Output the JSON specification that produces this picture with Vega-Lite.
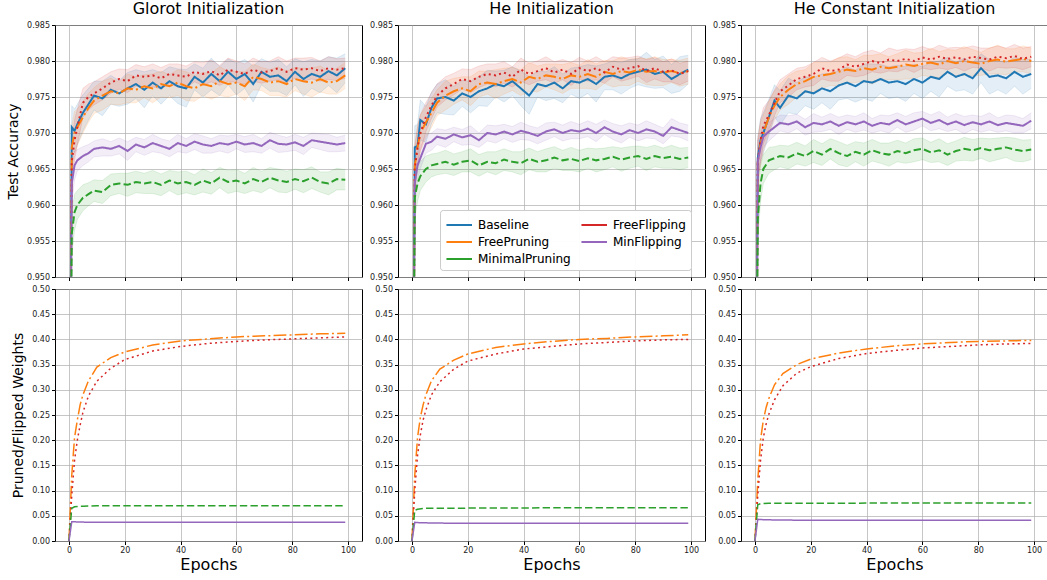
{
"$schema":"https://vega.github.io/schema/vega-lite/v6.json",
"padding":{"left":6,"top":0,"right":0,"bottom":0},
"config":{
"font":"DejaVu Sans",
"view":{"stroke":"#000","strokeWidth":1},
"axis":{"domain":false,"tickColor":"#000","tickSize":3.5,"labelFontSize":8,"labelColor":"#222","gridColor":"#b0b0b0","gridOpacity":0.8,"gridWidth":0.9,"titleFontWeight":"normal","titleColor":"#000","labelPadding":2},
"axisY":{"titleFontSize":14,"titlePadding":6},
"axisX":{"titleFontSize":16,"titlePadding":2},
"title":{"fontSize":16,"fontWeight":"normal","offset":0,"color":"#000"}
},
"datasets":{
"g":[
{"s":"B","e":0,"y":0.9,"d":0.004},{"s":"B","e":1,"y":0.9708,"d":0.003},{"s":"B","e":2,"y":0.9703,"d":0.003},{"s":"B","e":3,"y":0.9712,"d":0.0028},{"s":"B","e":5,"y":0.9728,"d":0.0025},{"s":"B","e":7,"y":0.974,"d":0.0022},{"s":"B","e":9,"y":0.9752,"d":0.002},{"s":"B","e":12,"y":0.9748,"d":0.0024},{"s":"B","e":15,"y":0.976,"d":0.002},{"s":"B","e":18,"y":0.9755,"d":0.0018},{"s":"B","e":21,"y":0.9762,"d":0.0022},{"s":"B","e":24,"y":0.9768,"d":0.002},{"s":"B","e":27,"y":0.976,"d":0.0025},{"s":"B","e":30,"y":0.977,"d":0.0018},{"s":"B","e":33,"y":0.9762,"d":0.0022},{"s":"B","e":36,"y":0.9772,"d":0.002},{"s":"B","e":39,"y":0.9765,"d":0.0024},{"s":"B","e":42,"y":0.9762,"d":0.0026},{"s":"B","e":45,"y":0.9778,"d":0.0018},{"s":"B","e":48,"y":0.977,"d":0.002},{"s":"B","e":51,"y":0.9782,"d":0.0022},{"s":"B","e":54,"y":0.9772,"d":0.002},{"s":"B","e":57,"y":0.9785,"d":0.0018},{"s":"B","e":60,"y":0.9775,"d":0.0022},{"s":"B","e":63,"y":0.9782,"d":0.002},{"s":"B","e":66,"y":0.9768,"d":0.0025},{"s":"B","e":69,"y":0.9785,"d":0.0018},{"s":"B","e":72,"y":0.9778,"d":0.002},{"s":"B","e":75,"y":0.978,"d":0.0022},{"s":"B","e":78,"y":0.9772,"d":0.002},{"s":"B","e":81,"y":0.9785,"d":0.0018},{"s":"B","e":84,"y":0.9775,"d":0.0024},{"s":"B","e":87,"y":0.9782,"d":0.002},{"s":"B","e":90,"y":0.9778,"d":0.0022},{"s":"B","e":93,"y":0.9786,"d":0.002},{"s":"B","e":96,"y":0.978,"d":0.0024},{"s":"B","e":99,"y":0.979,"d":0.002},
{"s":"FP","e":0,"y":0.9,"d":0.004},{"s":"FP","e":1,"y":0.968,"d":0.003},{"s":"FP","e":2,"y":0.97,"d":0.003},{"s":"FP","e":3,"y":0.9708,"d":0.0025},{"s":"FP","e":5,"y":0.9722,"d":0.0022},{"s":"FP","e":7,"y":0.9735,"d":0.002},{"s":"FP","e":9,"y":0.9745,"d":0.0018},{"s":"FP","e":12,"y":0.9752,"d":0.002},{"s":"FP","e":15,"y":0.9758,"d":0.0018},{"s":"FP","e":18,"y":0.9755,"d":0.0016},{"s":"FP","e":21,"y":0.9762,"d":0.002},{"s":"FP","e":24,"y":0.976,"d":0.0018},{"s":"FP","e":27,"y":0.9765,"d":0.0016},{"s":"FP","e":30,"y":0.9762,"d":0.002},{"s":"FP","e":33,"y":0.9768,"d":0.0018},{"s":"FP","e":36,"y":0.9765,"d":0.0016},{"s":"FP","e":39,"y":0.977,"d":0.0018},{"s":"FP","e":42,"y":0.9765,"d":0.002},{"s":"FP","e":45,"y":0.9762,"d":0.0018},{"s":"FP","e":48,"y":0.9768,"d":0.0016},{"s":"FP","e":51,"y":0.9765,"d":0.0018},{"s":"FP","e":54,"y":0.9772,"d":0.002},{"s":"FP","e":57,"y":0.9768,"d":0.0018},{"s":"FP","e":60,"y":0.977,"d":0.0016},{"s":"FP","e":63,"y":0.9765,"d":0.002},{"s":"FP","e":66,"y":0.9778,"d":0.0018},{"s":"FP","e":69,"y":0.9775,"d":0.0016},{"s":"FP","e":72,"y":0.977,"d":0.0018},{"s":"FP","e":75,"y":0.9772,"d":0.002},{"s":"FP","e":78,"y":0.9768,"d":0.0018},{"s":"FP","e":81,"y":0.9775,"d":0.0016},{"s":"FP","e":84,"y":0.9772,"d":0.0018},{"s":"FP","e":87,"y":0.977,"d":0.002},{"s":"FP","e":90,"y":0.9775,"d":0.0018},{"s":"FP","e":93,"y":0.977,"d":0.0016},{"s":"FP","e":96,"y":0.9772,"d":0.0018},{"s":"FP","e":99,"y":0.978,"d":0.0018},
{"s":"FF","e":0,"y":0.9,"d":0.004},{"s":"FF","e":1,"y":0.966,"d":0.003},{"s":"FF","e":2,"y":0.969,"d":0.0028},{"s":"FF","e":3,"y":0.9708,"d":0.0025},{"s":"FF","e":5,"y":0.9742,"d":0.002},{"s":"FF","e":7,"y":0.975,"d":0.0018},{"s":"FF","e":9,"y":0.9755,"d":0.0016},{"s":"FF","e":12,"y":0.9762,"d":0.0016},{"s":"FF","e":15,"y":0.977,"d":0.0015},{"s":"FF","e":18,"y":0.9775,"d":0.0014},{"s":"FF","e":21,"y":0.9772,"d":0.0016},{"s":"FF","e":24,"y":0.978,"d":0.0015},{"s":"FF","e":27,"y":0.9778,"d":0.0014},{"s":"FF","e":30,"y":0.978,"d":0.0016},{"s":"FF","e":33,"y":0.9776,"d":0.0015},{"s":"FF","e":36,"y":0.9782,"d":0.0014},{"s":"FF","e":39,"y":0.978,"d":0.0016},{"s":"FF","e":42,"y":0.9778,"d":0.0015},{"s":"FF","e":45,"y":0.9785,"d":0.0014},{"s":"FF","e":48,"y":0.9782,"d":0.0016},{"s":"FF","e":51,"y":0.9786,"d":0.0015},{"s":"FF","e":54,"y":0.978,"d":0.0014},{"s":"FF","e":57,"y":0.9788,"d":0.0016},{"s":"FF","e":60,"y":0.9785,"d":0.0015},{"s":"FF","e":63,"y":0.9782,"d":0.0014},{"s":"FF","e":66,"y":0.9788,"d":0.0016},{"s":"FF","e":69,"y":0.9784,"d":0.0015},{"s":"FF","e":72,"y":0.9786,"d":0.0014},{"s":"FF","e":75,"y":0.979,"d":0.0016},{"s":"FF","e":78,"y":0.9785,"d":0.0015},{"s":"FF","e":81,"y":0.979,"d":0.0014},{"s":"FF","e":84,"y":0.9788,"d":0.0016},{"s":"FF","e":87,"y":0.979,"d":0.0015},{"s":"FF","e":90,"y":0.9786,"d":0.0014},{"s":"FF","e":93,"y":0.979,"d":0.0016},{"s":"FF","e":96,"y":0.9788,"d":0.0015},{"s":"FF","e":99,"y":0.979,"d":0.0014},
{"s":"MF","e":0,"y":0.9,"d":0.004},{"s":"MF","e":1,"y":0.963,"d":0.003},{"s":"MF","e":2,"y":0.9655,"d":0.002},{"s":"MF","e":3,"y":0.9662,"d":0.0015},{"s":"MF","e":5,"y":0.9668,"d":0.0013},{"s":"MF","e":7,"y":0.9672,"d":0.0012},{"s":"MF","e":9,"y":0.9678,"d":0.0011},{"s":"MF","e":12,"y":0.968,"d":0.0012},{"s":"MF","e":15,"y":0.9678,"d":0.001},{"s":"MF","e":18,"y":0.9682,"d":0.0011},{"s":"MF","e":21,"y":0.9675,"d":0.0013},{"s":"MF","e":24,"y":0.9684,"d":0.001},{"s":"MF","e":27,"y":0.968,"d":0.0011},{"s":"MF","e":30,"y":0.9686,"d":0.0012},{"s":"MF","e":33,"y":0.9682,"d":0.001},{"s":"MF","e":36,"y":0.9678,"d":0.0011},{"s":"MF","e":39,"y":0.9686,"d":0.0012},{"s":"MF","e":42,"y":0.9682,"d":0.001},{"s":"MF","e":45,"y":0.9688,"d":0.0011},{"s":"MF","e":48,"y":0.9684,"d":0.0012},{"s":"MF","e":51,"y":0.9682,"d":0.001},{"s":"MF","e":54,"y":0.9686,"d":0.0011},{"s":"MF","e":57,"y":0.9684,"d":0.0012},{"s":"MF","e":60,"y":0.9688,"d":0.001},{"s":"MF","e":63,"y":0.9684,"d":0.0011},{"s":"MF","e":66,"y":0.9686,"d":0.0012},{"s":"MF","e":69,"y":0.9682,"d":0.001},{"s":"MF","e":72,"y":0.969,"d":0.0011},{"s":"MF","e":75,"y":0.9685,"d":0.0012},{"s":"MF","e":78,"y":0.9684,"d":0.001},{"s":"MF","e":81,"y":0.9687,"d":0.0011},{"s":"MF","e":84,"y":0.9682,"d":0.0012},{"s":"MF","e":87,"y":0.969,"d":0.001},{"s":"MF","e":90,"y":0.9688,"d":0.0011},{"s":"MF","e":93,"y":0.9686,"d":0.0012},{"s":"MF","e":96,"y":0.9684,"d":0.001},{"s":"MF","e":99,"y":0.9686,"d":0.0011},
{"s":"MP","e":0,"y":0.9,"d":0.004},{"s":"MP","e":1,"y":0.956,"d":0.003},{"s":"MP","e":2,"y":0.959,"d":0.0025},{"s":"MP","e":3,"y":0.96,"d":0.002},{"s":"MP","e":5,"y":0.961,"d":0.0018},{"s":"MP","e":7,"y":0.9615,"d":0.0016},{"s":"MP","e":9,"y":0.962,"d":0.0015},{"s":"MP","e":12,"y":0.9618,"d":0.0016},{"s":"MP","e":15,"y":0.9628,"d":0.0015},{"s":"MP","e":18,"y":0.963,"d":0.0014},{"s":"MP","e":21,"y":0.9628,"d":0.0016},{"s":"MP","e":24,"y":0.9632,"d":0.0015},{"s":"MP","e":27,"y":0.963,"d":0.0014},{"s":"MP","e":30,"y":0.9632,"d":0.0016},{"s":"MP","e":33,"y":0.9628,"d":0.0015},{"s":"MP","e":36,"y":0.9634,"d":0.0014},{"s":"MP","e":39,"y":0.963,"d":0.0016},{"s":"MP","e":42,"y":0.9632,"d":0.0015},{"s":"MP","e":45,"y":0.9628,"d":0.0014},{"s":"MP","e":48,"y":0.9634,"d":0.0016},{"s":"MP","e":51,"y":0.963,"d":0.0015},{"s":"MP","e":54,"y":0.9638,"d":0.0014},{"s":"MP","e":57,"y":0.9632,"d":0.0016},{"s":"MP","e":60,"y":0.9634,"d":0.0015},{"s":"MP","e":63,"y":0.963,"d":0.0014},{"s":"MP","e":66,"y":0.9636,"d":0.0016},{"s":"MP","e":69,"y":0.9632,"d":0.0015},{"s":"MP","e":72,"y":0.9638,"d":0.0014},{"s":"MP","e":75,"y":0.9634,"d":0.0016},{"s":"MP","e":78,"y":0.9632,"d":0.0015},{"s":"MP","e":81,"y":0.9636,"d":0.0014},{"s":"MP","e":84,"y":0.9633,"d":0.0016},{"s":"MP","e":87,"y":0.9638,"d":0.0015},{"s":"MP","e":90,"y":0.9632,"d":0.0014},{"s":"MP","e":93,"y":0.963,"d":0.0016},{"s":"MP","e":96,"y":0.9636,"d":0.0015},{"s":"MP","e":99,"y":0.9635,"d":0.0014}
],
"h":[
{"s":"B","e":0,"y":0.9,"d":0.004},{"s":"B","e":1,"y":0.968,"d":0.003},{"s":"B","e":2,"y":0.9682,"d":0.003},{"s":"B","e":3,"y":0.9718,"d":0.0028},{"s":"B","e":5,"y":0.9712,"d":0.0025},{"s":"B","e":7,"y":0.9735,"d":0.0022},{"s":"B","e":9,"y":0.9748,"d":0.002},{"s":"B","e":12,"y":0.975,"d":0.0024},{"s":"B","e":15,"y":0.9745,"d":0.002},{"s":"B","e":18,"y":0.9755,"d":0.0018},{"s":"B","e":21,"y":0.975,"d":0.0022},{"s":"B","e":24,"y":0.9758,"d":0.002},{"s":"B","e":27,"y":0.9762,"d":0.0025},{"s":"B","e":30,"y":0.9768,"d":0.0018},{"s":"B","e":33,"y":0.9765,"d":0.0022},{"s":"B","e":36,"y":0.9772,"d":0.002},{"s":"B","e":39,"y":0.9762,"d":0.0024},{"s":"B","e":42,"y":0.9752,"d":0.0026},{"s":"B","e":45,"y":0.9768,"d":0.0018},{"s":"B","e":48,"y":0.9765,"d":0.002},{"s":"B","e":51,"y":0.977,"d":0.0022},{"s":"B","e":54,"y":0.9762,"d":0.002},{"s":"B","e":57,"y":0.9772,"d":0.0018},{"s":"B","e":60,"y":0.977,"d":0.0022},{"s":"B","e":63,"y":0.9775,"d":0.002},{"s":"B","e":66,"y":0.9768,"d":0.0025},{"s":"B","e":69,"y":0.9778,"d":0.0018},{"s":"B","e":72,"y":0.978,"d":0.002},{"s":"B","e":75,"y":0.9776,"d":0.0022},{"s":"B","e":78,"y":0.9782,"d":0.002},{"s":"B","e":81,"y":0.9785,"d":0.0018},{"s":"B","e":84,"y":0.9788,"d":0.0024},{"s":"B","e":87,"y":0.9782,"d":0.002},{"s":"B","e":90,"y":0.9785,"d":0.0022},{"s":"B","e":93,"y":0.9775,"d":0.002},{"s":"B","e":96,"y":0.9782,"d":0.0024},{"s":"B","e":99,"y":0.9788,"d":0.002},
{"s":"FP","e":0,"y":0.9,"d":0.004},{"s":"FP","e":1,"y":0.9655,"d":0.003},{"s":"FP","e":2,"y":0.968,"d":0.003},{"s":"FP","e":3,"y":0.97,"d":0.0025},{"s":"FP","e":5,"y":0.9715,"d":0.0022},{"s":"FP","e":7,"y":0.9728,"d":0.002},{"s":"FP","e":9,"y":0.9742,"d":0.0018},{"s":"FP","e":12,"y":0.9752,"d":0.002},{"s":"FP","e":15,"y":0.9758,"d":0.0018},{"s":"FP","e":18,"y":0.9762,"d":0.0016},{"s":"FP","e":21,"y":0.9758,"d":0.002},{"s":"FP","e":24,"y":0.9768,"d":0.0018},{"s":"FP","e":27,"y":0.977,"d":0.0016},{"s":"FP","e":30,"y":0.9768,"d":0.002},{"s":"FP","e":33,"y":0.9772,"d":0.0018},{"s":"FP","e":36,"y":0.9775,"d":0.0016},{"s":"FP","e":39,"y":0.977,"d":0.0018},{"s":"FP","e":42,"y":0.9778,"d":0.002},{"s":"FP","e":45,"y":0.9775,"d":0.0018},{"s":"FP","e":48,"y":0.978,"d":0.0016},{"s":"FP","e":51,"y":0.9778,"d":0.0018},{"s":"FP","e":54,"y":0.9775,"d":0.002},{"s":"FP","e":57,"y":0.978,"d":0.0018},{"s":"FP","e":60,"y":0.9778,"d":0.0016},{"s":"FP","e":63,"y":0.9782,"d":0.002},{"s":"FP","e":66,"y":0.9778,"d":0.0018},{"s":"FP","e":69,"y":0.9785,"d":0.0016},{"s":"FP","e":72,"y":0.9782,"d":0.0018},{"s":"FP","e":75,"y":0.9786,"d":0.002},{"s":"FP","e":78,"y":0.9784,"d":0.0018},{"s":"FP","e":81,"y":0.9788,"d":0.0016},{"s":"FP","e":84,"y":0.9785,"d":0.0018},{"s":"FP","e":87,"y":0.9786,"d":0.002},{"s":"FP","e":90,"y":0.9784,"d":0.0018},{"s":"FP","e":93,"y":0.9786,"d":0.0016},{"s":"FP","e":96,"y":0.9783,"d":0.0018},{"s":"FP","e":99,"y":0.9786,"d":0.0018},
{"s":"FF","e":0,"y":0.9,"d":0.004},{"s":"FF","e":1,"y":0.965,"d":0.003},{"s":"FF","e":2,"y":0.968,"d":0.0028},{"s":"FF","e":3,"y":0.97,"d":0.0025},{"s":"FF","e":5,"y":0.9722,"d":0.002},{"s":"FF","e":7,"y":0.9738,"d":0.0018},{"s":"FF","e":9,"y":0.9752,"d":0.0016},{"s":"FF","e":12,"y":0.9762,"d":0.0016},{"s":"FF","e":15,"y":0.9768,"d":0.0015},{"s":"FF","e":18,"y":0.9775,"d":0.0014},{"s":"FF","e":21,"y":0.9772,"d":0.0016},{"s":"FF","e":24,"y":0.9778,"d":0.0015},{"s":"FF","e":27,"y":0.9782,"d":0.0014},{"s":"FF","e":30,"y":0.978,"d":0.0016},{"s":"FF","e":33,"y":0.9784,"d":0.0015},{"s":"FF","e":36,"y":0.9778,"d":0.0014},{"s":"FF","e":39,"y":0.9788,"d":0.0016},{"s":"FF","e":42,"y":0.9782,"d":0.0015},{"s":"FF","e":45,"y":0.9786,"d":0.0014},{"s":"FF","e":48,"y":0.979,"d":0.0016},{"s":"FF","e":51,"y":0.9784,"d":0.0015},{"s":"FF","e":54,"y":0.9788,"d":0.0014},{"s":"FF","e":57,"y":0.9782,"d":0.0016},{"s":"FF","e":60,"y":0.979,"d":0.0015},{"s":"FF","e":63,"y":0.9786,"d":0.0014},{"s":"FF","e":66,"y":0.979,"d":0.0016},{"s":"FF","e":69,"y":0.9784,"d":0.0015},{"s":"FF","e":72,"y":0.9792,"d":0.0014},{"s":"FF","e":75,"y":0.9788,"d":0.0016},{"s":"FF","e":78,"y":0.979,"d":0.0015},{"s":"FF","e":81,"y":0.9793,"d":0.0014},{"s":"FF","e":84,"y":0.9786,"d":0.0016},{"s":"FF","e":87,"y":0.979,"d":0.0015},{"s":"FF","e":90,"y":0.9785,"d":0.0014},{"s":"FF","e":93,"y":0.9787,"d":0.0016},{"s":"FF","e":96,"y":0.9782,"d":0.0015},{"s":"FF","e":99,"y":0.9786,"d":0.0014},
{"s":"MF","e":0,"y":0.9,"d":0.004},{"s":"MF","e":1,"y":0.963,"d":0.003},{"s":"MF","e":2,"y":0.9655,"d":0.002},{"s":"MF","e":3,"y":0.9665,"d":0.0015},{"s":"MF","e":5,"y":0.9685,"d":0.0013},{"s":"MF","e":7,"y":0.9688,"d":0.0012},{"s":"MF","e":9,"y":0.9695,"d":0.0011},{"s":"MF","e":12,"y":0.9692,"d":0.0012},{"s":"MF","e":15,"y":0.9698,"d":0.001},{"s":"MF","e":18,"y":0.9694,"d":0.0011},{"s":"MF","e":21,"y":0.9697,"d":0.0013},{"s":"MF","e":24,"y":0.969,"d":0.001},{"s":"MF","e":27,"y":0.97,"d":0.0011},{"s":"MF","e":30,"y":0.9698,"d":0.0012},{"s":"MF","e":33,"y":0.9702,"d":0.001},{"s":"MF","e":36,"y":0.9698,"d":0.0011},{"s":"MF","e":39,"y":0.9703,"d":0.0012},{"s":"MF","e":42,"y":0.97,"d":0.001},{"s":"MF","e":45,"y":0.9696,"d":0.0011},{"s":"MF","e":48,"y":0.9702,"d":0.0012},{"s":"MF","e":51,"y":0.9705,"d":0.001},{"s":"MF","e":54,"y":0.97,"d":0.0011},{"s":"MF","e":57,"y":0.9704,"d":0.0012},{"s":"MF","e":60,"y":0.9702,"d":0.001},{"s":"MF","e":63,"y":0.9706,"d":0.0011},{"s":"MF","e":66,"y":0.97,"d":0.0012},{"s":"MF","e":69,"y":0.9708,"d":0.001},{"s":"MF","e":72,"y":0.9702,"d":0.0011},{"s":"MF","e":75,"y":0.9698,"d":0.0012},{"s":"MF","e":78,"y":0.9704,"d":0.001},{"s":"MF","e":81,"y":0.97,"d":0.0011},{"s":"MF","e":84,"y":0.9705,"d":0.0012},{"s":"MF","e":87,"y":0.9702,"d":0.001},{"s":"MF","e":90,"y":0.9696,"d":0.0011},{"s":"MF","e":93,"y":0.9708,"d":0.0012},{"s":"MF","e":96,"y":0.9704,"d":0.001},{"s":"MF","e":99,"y":0.97,"d":0.0011},
{"s":"MP","e":0,"y":0.9,"d":0.004},{"s":"MP","e":1,"y":0.961,"d":0.003},{"s":"MP","e":2,"y":0.963,"d":0.0025},{"s":"MP","e":3,"y":0.964,"d":0.002},{"s":"MP","e":5,"y":0.965,"d":0.0018},{"s":"MP","e":7,"y":0.9655,"d":0.0016},{"s":"MP","e":9,"y":0.9657,"d":0.0015},{"s":"MP","e":12,"y":0.966,"d":0.0016},{"s":"MP","e":15,"y":0.9656,"d":0.0015},{"s":"MP","e":18,"y":0.966,"d":0.0014},{"s":"MP","e":21,"y":0.9662,"d":0.0016},{"s":"MP","e":24,"y":0.9655,"d":0.0015},{"s":"MP","e":27,"y":0.966,"d":0.0014},{"s":"MP","e":30,"y":0.9658,"d":0.0016},{"s":"MP","e":33,"y":0.9663,"d":0.0015},{"s":"MP","e":36,"y":0.966,"d":0.0014},{"s":"MP","e":39,"y":0.9658,"d":0.0016},{"s":"MP","e":42,"y":0.9664,"d":0.0015},{"s":"MP","e":45,"y":0.966,"d":0.0014},{"s":"MP","e":48,"y":0.9662,"d":0.0016},{"s":"MP","e":51,"y":0.9666,"d":0.0015},{"s":"MP","e":54,"y":0.9662,"d":0.0014},{"s":"MP","e":57,"y":0.9664,"d":0.0016},{"s":"MP","e":60,"y":0.9661,"d":0.0015},{"s":"MP","e":63,"y":0.9665,"d":0.0014},{"s":"MP","e":66,"y":0.9662,"d":0.0016},{"s":"MP","e":69,"y":0.9664,"d":0.0015},{"s":"MP","e":72,"y":0.9667,"d":0.0014},{"s":"MP","e":75,"y":0.9663,"d":0.0016},{"s":"MP","e":78,"y":0.9666,"d":0.0015},{"s":"MP","e":81,"y":0.9668,"d":0.0014},{"s":"MP","e":84,"y":0.9664,"d":0.0016},{"s":"MP","e":87,"y":0.9668,"d":0.0015},{"s":"MP","e":90,"y":0.9665,"d":0.0014},{"s":"MP","e":93,"y":0.9667,"d":0.0016},{"s":"MP","e":96,"y":0.9664,"d":0.0015},{"s":"MP","e":99,"y":0.9666,"d":0.0014}
],
"c":[
{"s":"B","e":0,"y":0.9,"d":0.004},{"s":"B","e":1,"y":0.9665,"d":0.003},{"s":"B","e":2,"y":0.969,"d":0.003},{"s":"B","e":3,"y":0.97,"d":0.0028},{"s":"B","e":5,"y":0.9722,"d":0.0025},{"s":"B","e":7,"y":0.9745,"d":0.0022},{"s":"B","e":9,"y":0.9735,"d":0.0024},{"s":"B","e":12,"y":0.9752,"d":0.0024},{"s":"B","e":15,"y":0.9748,"d":0.0022},{"s":"B","e":18,"y":0.9758,"d":0.002},{"s":"B","e":21,"y":0.9755,"d":0.0022},{"s":"B","e":24,"y":0.9762,"d":0.002},{"s":"B","e":27,"y":0.9758,"d":0.0025},{"s":"B","e":30,"y":0.9766,"d":0.002},{"s":"B","e":33,"y":0.977,"d":0.0022},{"s":"B","e":36,"y":0.9765,"d":0.0022},{"s":"B","e":39,"y":0.9772,"d":0.0024},{"s":"B","e":42,"y":0.977,"d":0.0026},{"s":"B","e":45,"y":0.9775,"d":0.002},{"s":"B","e":48,"y":0.977,"d":0.0022},{"s":"B","e":51,"y":0.9772,"d":0.0022},{"s":"B","e":54,"y":0.9768,"d":0.0024},{"s":"B","e":57,"y":0.9775,"d":0.002},{"s":"B","e":60,"y":0.977,"d":0.0022},{"s":"B","e":63,"y":0.9778,"d":0.002},{"s":"B","e":66,"y":0.9775,"d":0.0025},{"s":"B","e":69,"y":0.9785,"d":0.002},{"s":"B","e":72,"y":0.9778,"d":0.002},{"s":"B","e":75,"y":0.9782,"d":0.0022},{"s":"B","e":78,"y":0.9776,"d":0.0022},{"s":"B","e":81,"y":0.979,"d":0.002},{"s":"B","e":84,"y":0.9778,"d":0.0024},{"s":"B","e":87,"y":0.978,"d":0.002},{"s":"B","e":90,"y":0.9776,"d":0.0022},{"s":"B","e":93,"y":0.9785,"d":0.002},{"s":"B","e":96,"y":0.9778,"d":0.0024},{"s":"B","e":99,"y":0.9782,"d":0.002},
{"s":"FP","e":0,"y":0.9,"d":0.004},{"s":"FP","e":1,"y":0.966,"d":0.003},{"s":"FP","e":2,"y":0.9685,"d":0.003},{"s":"FP","e":3,"y":0.97,"d":0.0025},{"s":"FP","e":5,"y":0.9722,"d":0.0022},{"s":"FP","e":7,"y":0.9738,"d":0.002},{"s":"FP","e":9,"y":0.975,"d":0.0018},{"s":"FP","e":12,"y":0.976,"d":0.002},{"s":"FP","e":15,"y":0.9768,"d":0.0018},{"s":"FP","e":18,"y":0.9772,"d":0.0016},{"s":"FP","e":21,"y":0.9778,"d":0.002},{"s":"FP","e":24,"y":0.978,"d":0.0018},{"s":"FP","e":27,"y":0.9782,"d":0.0016},{"s":"FP","e":30,"y":0.9785,"d":0.002},{"s":"FP","e":33,"y":0.9788,"d":0.0018},{"s":"FP","e":36,"y":0.9786,"d":0.0016},{"s":"FP","e":39,"y":0.979,"d":0.0018},{"s":"FP","e":42,"y":0.9788,"d":0.002},{"s":"FP","e":45,"y":0.9792,"d":0.0018},{"s":"FP","e":48,"y":0.979,"d":0.0016},{"s":"FP","e":51,"y":0.9792,"d":0.0018},{"s":"FP","e":54,"y":0.9795,"d":0.002},{"s":"FP","e":57,"y":0.9793,"d":0.0018},{"s":"FP","e":60,"y":0.9796,"d":0.0016},{"s":"FP","e":63,"y":0.9798,"d":0.002},{"s":"FP","e":66,"y":0.9795,"d":0.0018},{"s":"FP","e":69,"y":0.98,"d":0.0016},{"s":"FP","e":72,"y":0.9797,"d":0.0018},{"s":"FP","e":75,"y":0.98,"d":0.002},{"s":"FP","e":78,"y":0.9798,"d":0.0018},{"s":"FP","e":81,"y":0.9796,"d":0.0016},{"s":"FP","e":84,"y":0.98,"d":0.0018},{"s":"FP","e":87,"y":0.9802,"d":0.002},{"s":"FP","e":90,"y":0.9799,"d":0.0018},{"s":"FP","e":93,"y":0.9801,"d":0.0016},{"s":"FP","e":96,"y":0.9803,"d":0.0018},{"s":"FP","e":99,"y":0.98,"d":0.0018},
{"s":"FF","e":0,"y":0.9,"d":0.004},{"s":"FF","e":1,"y":0.966,"d":0.003},{"s":"FF","e":2,"y":0.969,"d":0.0028},{"s":"FF","e":3,"y":0.971,"d":0.0025},{"s":"FF","e":5,"y":0.9725,"d":0.002},{"s":"FF","e":7,"y":0.9742,"d":0.0018},{"s":"FF","e":9,"y":0.9758,"d":0.0016},{"s":"FF","e":12,"y":0.9766,"d":0.0016},{"s":"FF","e":15,"y":0.9775,"d":0.0015},{"s":"FF","e":18,"y":0.9778,"d":0.0014},{"s":"FF","e":21,"y":0.9782,"d":0.0016},{"s":"FF","e":24,"y":0.979,"d":0.0015},{"s":"FF","e":27,"y":0.9786,"d":0.0014},{"s":"FF","e":30,"y":0.9788,"d":0.0016},{"s":"FF","e":33,"y":0.9795,"d":0.0015},{"s":"FF","e":36,"y":0.9792,"d":0.0014},{"s":"FF","e":39,"y":0.9796,"d":0.0016},{"s":"FF","e":42,"y":0.98,"d":0.0015},{"s":"FF","e":45,"y":0.9797,"d":0.0014},{"s":"FF","e":48,"y":0.9802,"d":0.0016},{"s":"FF","e":51,"y":0.98,"d":0.0015},{"s":"FF","e":54,"y":0.9803,"d":0.0014},{"s":"FF","e":57,"y":0.98,"d":0.0016},{"s":"FF","e":60,"y":0.9805,"d":0.0015},{"s":"FF","e":63,"y":0.9802,"d":0.0014},{"s":"FF","e":66,"y":0.9806,"d":0.0016},{"s":"FF","e":69,"y":0.9803,"d":0.0015},{"s":"FF","e":72,"y":0.9805,"d":0.0014},{"s":"FF","e":75,"y":0.9802,"d":0.0016},{"s":"FF","e":78,"y":0.9806,"d":0.0015},{"s":"FF","e":81,"y":0.9804,"d":0.0014},{"s":"FF","e":84,"y":0.9802,"d":0.0016},{"s":"FF","e":87,"y":0.9806,"d":0.0015},{"s":"FF","e":90,"y":0.9804,"d":0.0014},{"s":"FF","e":93,"y":0.9807,"d":0.0016},{"s":"FF","e":96,"y":0.9803,"d":0.0015},{"s":"FF","e":99,"y":0.9806,"d":0.0014},
{"s":"MF","e":0,"y":0.9,"d":0.004},{"s":"MF","e":1,"y":0.966,"d":0.003},{"s":"MF","e":2,"y":0.968,"d":0.002},{"s":"MF","e":3,"y":0.9695,"d":0.0015},{"s":"MF","e":5,"y":0.9702,"d":0.0013},{"s":"MF","e":7,"y":0.9708,"d":0.0012},{"s":"MF","e":9,"y":0.9714,"d":0.0011},{"s":"MF","e":12,"y":0.9712,"d":0.0012},{"s":"MF","e":15,"y":0.9716,"d":0.001},{"s":"MF","e":18,"y":0.9708,"d":0.0011},{"s":"MF","e":21,"y":0.9714,"d":0.0013},{"s":"MF","e":24,"y":0.9712,"d":0.001},{"s":"MF","e":27,"y":0.9716,"d":0.0011},{"s":"MF","e":30,"y":0.971,"d":0.0012},{"s":"MF","e":33,"y":0.9715,"d":0.001},{"s":"MF","e":36,"y":0.9712,"d":0.0011},{"s":"MF","e":39,"y":0.9716,"d":0.0012},{"s":"MF","e":42,"y":0.971,"d":0.001},{"s":"MF","e":45,"y":0.9714,"d":0.0011},{"s":"MF","e":48,"y":0.9712,"d":0.0012},{"s":"MF","e":51,"y":0.9718,"d":0.001},{"s":"MF","e":54,"y":0.9712,"d":0.0011},{"s":"MF","e":57,"y":0.9716,"d":0.0012},{"s":"MF","e":60,"y":0.972,"d":0.001},{"s":"MF","e":63,"y":0.9714,"d":0.0011},{"s":"MF","e":66,"y":0.9718,"d":0.0012},{"s":"MF","e":69,"y":0.9712,"d":0.001},{"s":"MF","e":72,"y":0.9716,"d":0.0011},{"s":"MF","e":75,"y":0.9711,"d":0.0012},{"s":"MF","e":78,"y":0.9715,"d":0.001},{"s":"MF","e":81,"y":0.9712,"d":0.0011},{"s":"MF","e":84,"y":0.9716,"d":0.0012},{"s":"MF","e":87,"y":0.9711,"d":0.001},{"s":"MF","e":90,"y":0.9714,"d":0.0011},{"s":"MF","e":93,"y":0.9712,"d":0.0012},{"s":"MF","e":96,"y":0.971,"d":0.001},{"s":"MF","e":99,"y":0.9717,"d":0.0011},
{"s":"MP","e":0,"y":0.9,"d":0.004},{"s":"MP","e":1,"y":0.958,"d":0.003},{"s":"MP","e":2,"y":0.963,"d":0.0025},{"s":"MP","e":3,"y":0.965,"d":0.002},{"s":"MP","e":5,"y":0.9662,"d":0.0018},{"s":"MP","e":7,"y":0.9665,"d":0.0016},{"s":"MP","e":9,"y":0.9668,"d":0.0015},{"s":"MP","e":12,"y":0.9666,"d":0.0016},{"s":"MP","e":15,"y":0.9672,"d":0.0015},{"s":"MP","e":18,"y":0.9668,"d":0.0014},{"s":"MP","e":21,"y":0.9675,"d":0.0016},{"s":"MP","e":24,"y":0.967,"d":0.0015},{"s":"MP","e":27,"y":0.9678,"d":0.0014},{"s":"MP","e":30,"y":0.9672,"d":0.0016},{"s":"MP","e":33,"y":0.9668,"d":0.0015},{"s":"MP","e":36,"y":0.9674,"d":0.0014},{"s":"MP","e":39,"y":0.967,"d":0.0016},{"s":"MP","e":42,"y":0.9676,"d":0.0015},{"s":"MP","e":45,"y":0.9672,"d":0.0014},{"s":"MP","e":48,"y":0.967,"d":0.0016},{"s":"MP","e":51,"y":0.9675,"d":0.0015},{"s":"MP","e":54,"y":0.9672,"d":0.0014},{"s":"MP","e":57,"y":0.9676,"d":0.0016},{"s":"MP","e":60,"y":0.9678,"d":0.0015},{"s":"MP","e":63,"y":0.9673,"d":0.0014},{"s":"MP","e":66,"y":0.9676,"d":0.0016},{"s":"MP","e":69,"y":0.967,"d":0.0015},{"s":"MP","e":72,"y":0.9675,"d":0.0014},{"s":"MP","e":75,"y":0.9678,"d":0.0016},{"s":"MP","e":78,"y":0.9676,"d":0.0015},{"s":"MP","e":81,"y":0.9679,"d":0.0014},{"s":"MP","e":84,"y":0.9676,"d":0.0016},{"s":"MP","e":87,"y":0.9678,"d":0.0015},{"s":"MP","e":90,"y":0.968,"d":0.0014},{"s":"MP","e":93,"y":0.9677,"d":0.0016},{"s":"MP","e":96,"y":0.9675,"d":0.0015},{"s":"MP","e":99,"y":0.9677,"d":0.0014}
],
"gw":[
{"s":"FP","e":0,"y":0},{"s":"FP","e":1,"y":0.13},{"s":"FP","e":2,"y":0.205},{"s":"FP","e":3,"y":0.24},{"s":"FP","e":4,"y":0.27},{"s":"FP","e":5,"y":0.29},{"s":"FP","e":7,"y":0.318},{"s":"FP","e":10,"y":0.345},{"s":"FP","e":15,"y":0.364},{"s":"FP","e":20,"y":0.375},{"s":"FP","e":30,"y":0.389},{"s":"FP","e":40,"y":0.397},{"s":"FP","e":50,"y":0.401},{"s":"FP","e":60,"y":0.405},{"s":"FP","e":70,"y":0.407},{"s":"FP","e":80,"y":0.409},{"s":"FP","e":90,"y":0.411},{"s":"FP","e":99,"y":0.412},
{"s":"FF","e":0,"y":0},{"s":"FF","e":1,"y":0.09},{"s":"FF","e":2,"y":0.16},{"s":"FF","e":3,"y":0.2},{"s":"FF","e":4,"y":0.23},{"s":"FF","e":5,"y":0.255},{"s":"FF","e":7,"y":0.288},{"s":"FF","e":10,"y":0.317},{"s":"FF","e":15,"y":0.343},{"s":"FF","e":20,"y":0.36},{"s":"FF","e":30,"y":0.377},{"s":"FF","e":40,"y":0.386},{"s":"FF","e":50,"y":0.392},{"s":"FF","e":60,"y":0.396},{"s":"FF","e":70,"y":0.399},{"s":"FF","e":80,"y":0.401},{"s":"FF","e":90,"y":0.403},{"s":"FF","e":99,"y":0.405},
{"s":"MP","e":0,"y":0},{"s":"MP","e":1,"y":0.065},{"s":"MP","e":2,"y":0.068},{"s":"MP","e":5,"y":0.069},{"s":"MP","e":10,"y":0.07},{"s":"MP","e":30,"y":0.07},{"s":"MP","e":60,"y":0.07},{"s":"MP","e":99,"y":0.07},
{"s":"MF","e":0,"y":0},{"s":"MF","e":1,"y":0.038},{"s":"MF","e":2,"y":0.038},{"s":"MF","e":5,"y":0.0375},{"s":"MF","e":10,"y":0.037},{"s":"MF","e":30,"y":0.037},{"s":"MF","e":60,"y":0.037},{"s":"MF","e":99,"y":0.037}
],
"hw":[
{"s":"FP","e":0,"y":0},{"s":"FP","e":1,"y":0.13},{"s":"FP","e":2,"y":0.205},{"s":"FP","e":3,"y":0.245},{"s":"FP","e":4,"y":0.27},{"s":"FP","e":5,"y":0.29},{"s":"FP","e":7,"y":0.318},{"s":"FP","e":10,"y":0.341},{"s":"FP","e":15,"y":0.359},{"s":"FP","e":20,"y":0.371},{"s":"FP","e":30,"y":0.384},{"s":"FP","e":40,"y":0.391},{"s":"FP","e":50,"y":0.396},{"s":"FP","e":60,"y":0.4},{"s":"FP","e":70,"y":0.402},{"s":"FP","e":80,"y":0.405},{"s":"FP","e":90,"y":0.407},{"s":"FP","e":99,"y":0.409},
{"s":"FF","e":0,"y":0},{"s":"FF","e":1,"y":0.1},{"s":"FF","e":2,"y":0.17},{"s":"FF","e":3,"y":0.21},{"s":"FF","e":4,"y":0.24},{"s":"FF","e":5,"y":0.26},{"s":"FF","e":7,"y":0.29},{"s":"FF","e":10,"y":0.316},{"s":"FF","e":15,"y":0.341},{"s":"FF","e":20,"y":0.357},{"s":"FF","e":30,"y":0.371},{"s":"FF","e":40,"y":0.381},{"s":"FF","e":50,"y":0.386},{"s":"FF","e":60,"y":0.391},{"s":"FF","e":70,"y":0.394},{"s":"FF","e":80,"y":0.397},{"s":"FF","e":90,"y":0.399},{"s":"FF","e":99,"y":0.4},
{"s":"MP","e":0,"y":0},{"s":"MP","e":1,"y":0.061},{"s":"MP","e":2,"y":0.063},{"s":"MP","e":5,"y":0.065},{"s":"MP","e":10,"y":0.065},{"s":"MP","e":30,"y":0.0655},{"s":"MP","e":60,"y":0.066},{"s":"MP","e":99,"y":0.066},
{"s":"MF","e":0,"y":0},{"s":"MF","e":1,"y":0.037},{"s":"MF","e":2,"y":0.0365},{"s":"MF","e":5,"y":0.036},{"s":"MF","e":10,"y":0.0355},{"s":"MF","e":30,"y":0.035},{"s":"MF","e":60,"y":0.035},{"s":"MF","e":99,"y":0.035}
],
"cw":[
{"s":"FP","e":0,"y":0},{"s":"FP","e":1,"y":0.12},{"s":"FP","e":2,"y":0.2},{"s":"FP","e":3,"y":0.24},{"s":"FP","e":4,"y":0.265},{"s":"FP","e":5,"y":0.283},{"s":"FP","e":7,"y":0.31},{"s":"FP","e":10,"y":0.332},{"s":"FP","e":15,"y":0.35},{"s":"FP","e":20,"y":0.361},{"s":"FP","e":30,"y":0.373},{"s":"FP","e":40,"y":0.381},{"s":"FP","e":50,"y":0.387},{"s":"FP","e":60,"y":0.391},{"s":"FP","e":70,"y":0.394},{"s":"FP","e":80,"y":0.396},{"s":"FP","e":90,"y":0.397},{"s":"FP","e":99,"y":0.398},
{"s":"FF","e":0,"y":0},{"s":"FF","e":1,"y":0.09},{"s":"FF","e":2,"y":0.16},{"s":"FF","e":3,"y":0.205},{"s":"FF","e":4,"y":0.232},{"s":"FF","e":5,"y":0.252},{"s":"FF","e":7,"y":0.28},{"s":"FF","e":10,"y":0.308},{"s":"FF","e":15,"y":0.333},{"s":"FF","e":20,"y":0.346},{"s":"FF","e":30,"y":0.362},{"s":"FF","e":40,"y":0.372},{"s":"FF","e":50,"y":0.378},{"s":"FF","e":60,"y":0.383},{"s":"FF","e":70,"y":0.386},{"s":"FF","e":80,"y":0.389},{"s":"FF","e":90,"y":0.391},{"s":"FF","e":99,"y":0.392},
{"s":"MP","e":0,"y":0},{"s":"MP","e":1,"y":0.072},{"s":"MP","e":2,"y":0.074},{"s":"MP","e":5,"y":0.075},{"s":"MP","e":10,"y":0.075},{"s":"MP","e":30,"y":0.075},{"s":"MP","e":60,"y":0.0755},{"s":"MP","e":99,"y":0.0755},
{"s":"MF","e":0,"y":0},{"s":"MF","e":1,"y":0.043},{"s":"MF","e":2,"y":0.0425},{"s":"MF","e":5,"y":0.042},{"s":"MF","e":10,"y":0.0415},{"s":"MF","e":30,"y":0.041},{"s":"MF","e":60,"y":0.041},{"s":"MF","e":99,"y":0.041}
]
},
"vconcat":[
{"hconcat":[
{"width":307,"height":252,"data":{"name":"g"},"title":"Glorot Initialization",
"encoding":{"x":{"field":"e","type":"quantitative","scale":{"domain":[-5,105],"nice":false,"zero":false},"axis":{"values":[0,20,40,60,80,100],"labels":false,"title":null}},
"y":{"field":"y","type":"quantitative","scale":{"domain":[0.95,0.985],"nice":false,"zero":false},"axis":{"values":[0.95,0.955,0.96,0.965,0.97,0.975,0.98,0.985],"format":".3f","title":"Test Accuracy"}}},
"layer":[
{"mark":{"type":"errorband","opacity":0.12,"clip":true,"borders":{"opacity":0.22,"strokeWidth":0.6}},"encoding":{"yError":{"field":"d"},"color":{"field":"s","type":"nominal","scale":{"domain":["B","FP","MP","FF","MF"],"range":["#1f77b4","#ff7f0e","#2ca02c","#d62728","#9467bd"]},"legend":null}}},
{"mark":{"type":"line","strokeWidth":2,"clip":true},"encoding":{"color":{"field":"s","type":"nominal","legend":null},"strokeDash":{"field":"s","type":"nominal","scale":{"domain":["B","FP","MP","FF","MF"],"range":[[1,0],[12.8,3.2,2,3.2],[7.4,3.2],[2,3.3],[1,0]]},"legend":null}}}
]},
{"width":307,"height":252,"data":{"name":"h"},"title":"He Initialization",
"encoding":{"x":{"field":"e","type":"quantitative","scale":{"domain":[-5,105],"nice":false,"zero":false},"axis":{"values":[0,20,40,60,80,100],"labels":false,"title":null}},
"y":{"field":"y","type":"quantitative","scale":{"domain":[0.95,0.985],"nice":false,"zero":false},"axis":{"values":[0.95,0.955,0.96,0.965,0.97,0.975,0.98,0.985],"format":".3f","title":null}}},
"layer":[
{"mark":{"type":"errorband","opacity":0.12,"clip":true,"borders":{"opacity":0.22,"strokeWidth":0.6}},"encoding":{"yError":{"field":"d"},"color":{"field":"s","type":"nominal","legend":null}}},
{"mark":{"type":"line","strokeWidth":2,"clip":true},"encoding":{
"color":{"field":"s","type":"nominal","legend":{"title":null,"orient":"none","legendX":42,"legendY":185,"columns":2,"symbolType":"M-1,0H2","symbolStrokeWidth":2,"symbolSize":290,"labelOffset":13,"labelFontSize":12,"labelColor":"#000","rowPadding":1,"columnPadding":6,"padding":5,"fillColor":"rgba(255,255,255,0.8)","strokeColor":"#cccccc","cornerRadius":3,"labelExpr":"datum.label=='B'?'Baseline':datum.label=='FP'?'FreePruning':datum.label=='MP'?'MinimalPruning':datum.label=='FF'?'FreeFlipping':'MinFlipping'"}},
"strokeDash":{"field":"s","type":"nominal","legend":{"title":null,"orient":"none","legendX":42,"legendY":185,"columns":2,"symbolType":"M-1,0H2","symbolStrokeWidth":2,"symbolSize":290,"labelOffset":13,"labelFontSize":12,"labelColor":"#000","rowPadding":1,"columnPadding":6,"padding":5,"fillColor":"rgba(255,255,255,0.8)","strokeColor":"#cccccc","cornerRadius":3,"labelExpr":"datum.label=='B'?'Baseline':datum.label=='FP'?'FreePruning':datum.label=='MP'?'MinimalPruning':datum.label=='FF'?'FreeFlipping':'MinFlipping'"}}}}
],
"resolve":{"legend":{"color":"independent"}}},
{"width":307,"height":252,"data":{"name":"c"},"title":"He Constant Initialization",
"encoding":{"x":{"field":"e","type":"quantitative","scale":{"domain":[-5,105],"nice":false,"zero":false},"axis":{"values":[0,20,40,60,80,100],"labels":false,"title":null}},
"y":{"field":"y","type":"quantitative","scale":{"domain":[0.95,0.985],"nice":false,"zero":false},"axis":{"values":[0.95,0.955,0.96,0.965,0.97,0.975,0.98,0.985],"format":".3f","title":null}}},
"layer":[
{"mark":{"type":"errorband","opacity":0.12,"clip":true,"borders":{"opacity":0.22,"strokeWidth":0.6}},"encoding":{"yError":{"field":"d"},"color":{"field":"s","type":"nominal","legend":null}}},
{"mark":{"type":"line","strokeWidth":2,"clip":true},"encoding":{"color":{"field":"s","type":"nominal","legend":null},"strokeDash":{"field":"s","type":"nominal","legend":null}}}
]}
],"spacing":36,"bounds":"flush","resolve":{"legend":{"color":"independent","strokeDash":"independent"}}},
{"hconcat":[
{"width":307,"height":252,"data":{"name":"gw"},"mark":{"type":"line","strokeWidth":1.5,"clip":true},
"encoding":{"x":{"field":"e","type":"quantitative","scale":{"domain":[-5,105],"nice":false,"zero":false},"axis":{"values":[0,20,40,60,80,100],"title":"Epochs"}},
"y":{"field":"y","type":"quantitative","scale":{"domain":[0,0.5],"nice":false},"axis":{"values":[0,0.05,0.1,0.15,0.2,0.25,0.3,0.35,0.4,0.45,0.5],"format":".2f","title":"Pruned/Flipped Weights"}},
"color":{"field":"s","type":"nominal","legend":null},"strokeDash":{"field":"s","type":"nominal","legend":null}}},
{"width":307,"height":252,"data":{"name":"hw"},"mark":{"type":"line","strokeWidth":1.5,"clip":true},
"encoding":{"x":{"field":"e","type":"quantitative","scale":{"domain":[-5,105],"nice":false,"zero":false},"axis":{"values":[0,20,40,60,80,100],"title":"Epochs"}},
"y":{"field":"y","type":"quantitative","scale":{"domain":[0,0.5],"nice":false},"axis":{"values":[0,0.05,0.1,0.15,0.2,0.25,0.3,0.35,0.4,0.45,0.5],"format":".2f","title":null}},
"color":{"field":"s","type":"nominal","legend":null},"strokeDash":{"field":"s","type":"nominal","legend":null}}},
{"width":307,"height":252,"data":{"name":"cw"},"mark":{"type":"line","strokeWidth":1.5,"clip":true},
"encoding":{"x":{"field":"e","type":"quantitative","scale":{"domain":[-5,105],"nice":false,"zero":false},"axis":{"values":[0,20,40,60,80,100],"title":"Epochs"}},
"y":{"field":"y","type":"quantitative","scale":{"domain":[0,0.5],"nice":false},"axis":{"values":[0,0.05,0.1,0.15,0.2,0.25,0.3,0.35,0.4,0.45,0.5],"format":".2f","title":null}},
"color":{"field":"s","type":"nominal","legend":null},"strokeDash":{"field":"s","type":"nominal","legend":null}}}
],"spacing":36,"bounds":"flush","resolve":{"legend":{"color":"independent","strokeDash":"independent"}}}
],
"spacing":2,
"resolve":{"legend":{"color":"independent","strokeDash":"independent"}}
}
